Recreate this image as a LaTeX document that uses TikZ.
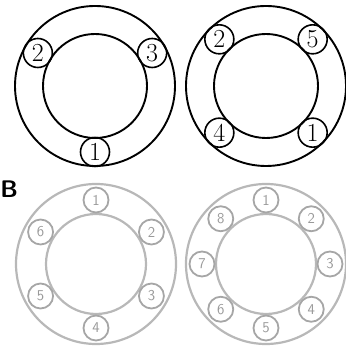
\documentclass[tikz,border=0pt]{standalone}
\begin{document}
\begin{tikzpicture}[x=1pt,y=1pt,
  ring/.style={draw=black, line width=1.9pt},
  slot/.style={circle, draw=black, line width=1.6pt, minimum size=29pt, inner sep=0pt,
    font=\fontsize{26}{26}\selectfont},
  ringfaint/.style={draw=black!28, line width=2.2pt},
  slotfaint/.style={circle, draw=black!35, line width=1.8pt, minimum size=25pt, inner sep=0pt,
    text=black!40, font=\fontsize{15}{15}\selectfont\sffamily}]
  \useasboundingbox (0,0) rectangle (345,347);

  % --- centri degli anelli ---
  \coordinate (topL) at (95,261);
  \coordinate (topR) at (266,261);
  \coordinate (botL) at (96,83);
  \coordinate (botR) at (266,83);

  % --- anello in alto a sinistra ---
  \draw[ring] (topL) circle (80);
  \draw[ring] (topL) circle (52);
  \node[slot] (tl1) at ([shift={(270:66)}]topL) {1};
  \node[slot] (tl2) at ([shift={(150:66)}]topL) {2};
  \node[slot] (tl3) at ([shift={(30:66)}]topL)  {3};

  % --- anello in alto a destra ---
  \draw[ring] (topR) circle (80);
  \draw[ring] (topR) circle (52);
  \node[slot] (tr1) at ([shift={(315:66)}]topR) {1};
  \node[slot] (tr2) at ([shift={(135:66)}]topR) {2};
  \node[slot] (tr4) at ([shift={(225:66)}]topR) {4};
  \node[slot] (tr5) at ([shift={(45:66)}]topR)  {5};

  % --- etichetta B ---
  \node[font=\bfseries\sffamily\fontsize{24}{24}\selectfont, anchor=west, inner sep=0pt] (lblB) at (0.3,158) {B};

  % --- anello in basso a sinistra (sei posti) ---
  \draw[ringfaint] (botL) circle (80);
  \draw[ringfaint] (botL) circle (50);
  \foreach \a [count=\i] in {90,30,-30,-90,-150,150}
    \node[slotfaint] (bl\i) at ([shift={(\a:64)}]botL) {\i};

  % --- anello in basso a destra (otto posti) ---
  \draw[ringfaint] (botR) circle (80);
  \draw[ringfaint] (botR) circle (50);
  \foreach \a [count=\i] in {90,45,0,-45,-90,-135,180,135}
    \node[slotfaint] (br\i) at ([shift={(\a:64)}]botR) {\i};
\end{tikzpicture}
\end{document}
